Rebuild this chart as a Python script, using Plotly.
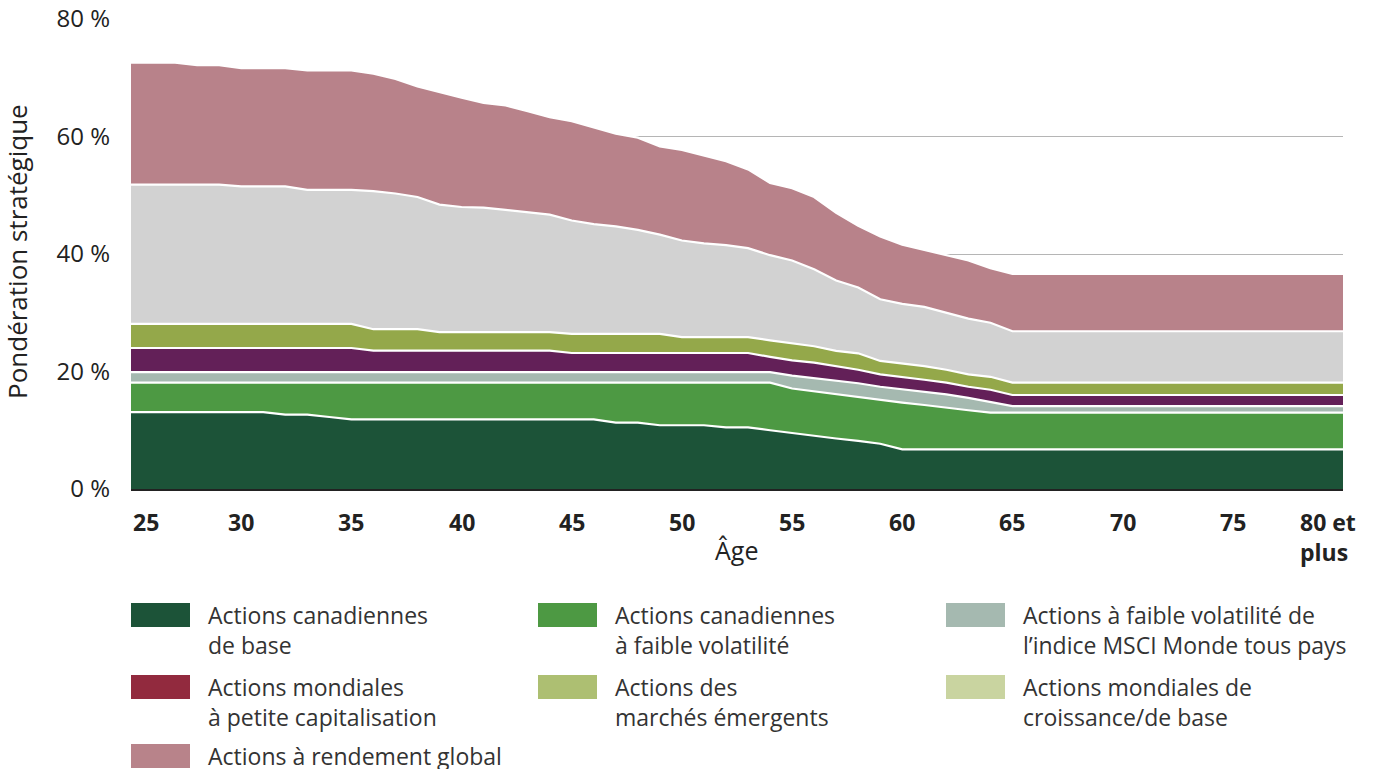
import plotly.graph_objects as go

# ---------------- data ----------------
ages = list(range(25, 66)) + [70, 75, 80]

can_base = [13.1, 13.1, 13.1, 13.1, 13.1, 13.1, 13.1, 12.65, 12.65, 12.25,
            11.85, 11.85, 11.85, 11.85, 11.85, 11.85, 11.85, 11.85, 11.85, 11.85,
            11.85, 11.85, 11.3, 11.3, 10.85, 10.85, 10.85, 10.5, 10.5, 10.0,
            9.5, 9.0, 8.6, 8.2, 7.7, 6.75, 6.75, 6.75, 6.75, 6.75,
            6.75, 6.75, 6.75, 6.75]
can_lowvol = [5.0, 5.0, 5.0, 5.0, 5.0, 5.0, 5.0, 5.45, 5.45, 5.85,
              6.25, 6.25, 6.25, 6.25, 6.25, 6.25, 6.25, 6.25, 6.25, 6.25,
              6.25, 6.25, 6.8, 6.8, 7.25, 7.25, 7.25, 7.6, 7.6, 8.1,
              7.6, 7.6, 7.5, 7.4, 7.4, 7.95, 7.55, 7.05, 6.65, 6.25,
              6.25, 6.25, 6.25, 6.25]
msci_lowvol = [1.8, 1.8, 1.8, 1.8, 1.8, 1.8, 1.8, 1.8, 1.8, 1.8,
               1.8, 1.8, 1.8, 1.8, 1.8, 1.8, 1.8, 1.8, 1.8, 1.8,
               1.8, 1.8, 1.8, 1.8, 1.8, 1.8, 1.8, 1.8, 1.8, 1.8,
               2.2, 2.3, 2.4, 2.4, 2.3, 2.3, 2.3, 2.3, 2.1, 1.8,
               1.1, 1.1, 1.1, 1.1]
small_cap = [4.1, 4.1, 4.1, 4.1, 4.1, 4.1, 4.1, 4.1, 4.1, 4.1,
             4.1, 3.65, 3.65, 3.65, 3.65, 3.65, 3.65, 3.65, 3.65, 3.65,
             3.25, 3.25, 3.25, 3.25, 3.25, 3.25, 3.25, 3.25, 3.25, 2.6,
             2.6, 2.6, 2.4, 2.3, 2.1, 2.1, 2.0, 2.0, 1.9, 2.1,
             1.9, 1.9, 1.9, 1.9]
emerging = [4.1, 4.1, 4.1, 4.1, 4.1, 4.1, 4.1, 4.1, 4.1, 4.1,
            4.1, 3.65, 3.65, 3.65, 3.15, 3.15, 3.15, 3.15, 3.15, 3.15,
            3.25, 3.25, 3.25, 3.25, 3.25, 2.7, 2.7, 2.7, 2.7, 2.8,
            2.9, 2.8, 2.6, 2.8, 2.3, 2.3, 2.3, 2.2, 2.1, 2.2,
            2.1, 2.1, 2.1, 2.1]
global_growth = [23.7, 23.7, 23.7, 23.7, 23.7, 23.4, 23.4, 23.4, 22.8, 22.8,
                 22.8, 23.5, 23.1, 22.5, 21.7, 21.3, 21.2, 20.8, 20.4, 20.0,
                 19.3, 18.7, 18.3, 17.7, 16.9, 16.45, 15.95, 15.65, 15.15, 14.5,
                 14.1, 13.1, 12.0, 11.2, 10.5, 10.1, 10.1, 9.7, 9.5, 9.2,
                 8.75, 8.75, 8.75, 8.75]
global_return = [20.75, 20.75, 20.75, 20.35, 20.35, 20.15, 20.15, 20.15, 20.35, 20.35,
                 20.35, 20.0, 19.5, 18.8, 19.1, 18.6, 17.8, 17.8, 17.2, 16.6,
                 16.9, 16.4, 15.8, 15.7, 15.0, 15.4, 14.9, 14.3, 13.4, 12.3,
                 12.3, 12.3, 11.5, 10.5, 10.7, 10.1, 9.7, 9.8, 9.9, 9.3,
                 9.75, 9.75, 9.75, 9.75]

series_names = ["Actions canadiennes de base",
                "Actions canadiennes à faible volatilité",
                "Actions à faible volatilité de l’indice MSCI Monde tous pays",
                "Actions mondiales à petite capitalisation",
                "Actions des marchés émergents",
                "Actions mondiales de croissance/de base",
                "Actions à rendement global"]
series_values = [can_base, can_lowvol, msci_lowvol, small_cap, emerging,
                 global_growth, global_return]
area_colors = ["#1c5338", "#4d9943", "#a5b9b0", "#632058", "#94a84a",
               "#d2d2d2", "#b8828a"]

x_tick_vals = [25, 30, 35, 40, 45, 50, 55, 60, 65, 70, 75, 80]
x_tick_text = ["25", "30", "35", "40", "45", "50", "55", "60", "65", "70", "75", "80 et<br>plus"]
y_tick_vals = [0, 20, 40, 60, 80]
y_tick_text = ["0 %", "20 %", "40 %", "60 %", "80 %"]

legend_lines = [["Actions canadiennes", "de base"],
                ["Actions canadiennes", "à faible volatilité"],
                ["Actions à faible volatilité de", "l’indice MSCI Monde tous pays"],
                ["Actions mondiales", "à petite capitalisation"],
                ["Actions des", "marchés émergents"],
                ["Actions mondiales de", "croissance/de base"],
                ["Actions à rendement global"]]
legend_colors = ["#1c5338", "#4d9943", "#a5b9b0", "#922a3e", "#adbf72",
                 "#c9d4a0", "#b8838a"]

# ---------------- figure ----------------
W, H = 1384, 769
L, R, T, B = 131, 41, 19, 280
PW, PH = W - L - R, H - T - B
FONT = "Open Sans"
TXT = "#222222"


def px(x):
    return (x - L) / PW


def py(y):
    return (H - B - y) / PH


fig = go.Figure()
for name, vals, col in zip(series_names, series_values, area_colors):
    fig.add_trace(go.Scatter(
        x=ages, y=vals, name=name, mode="lines", stackgroup="one",
        line=dict(color="white", width=2.2, shape="linear"),
        fillcolor=col, showlegend=False, hoverinfo="skip"))

annotations = []
# x tick labels
for v, t in zip(x_tick_vals, x_tick_text):
    anchor = "center"
    shift = 0
    if v == 25:
        anchor = "left"
    if v == 80:
        anchor = "left"
        shift = -45
    annotations.append(dict(x=v, y=py(504), xref="x", yref="paper", text=f"<b>{t}</b>",
                            showarrow=False, xanchor=anchor, yanchor="top", xshift=shift,
                            align="left", font=dict(family=FONT, size=23, color=TXT)))
# axis titles
annotations.append(dict(x=px(736), y=py(550), xref="paper", yref="paper", text="Âge",
                        showarrow=False, xanchor="center", yanchor="middle",
                        font=dict(family=FONT, size=25, color=TXT)))
annotations.append(dict(x=px(17), y=py(252), xref="paper", yref="paper",
                        text="Pondération stratégique", textangle=-90,
                        showarrow=False, xanchor="center", yanchor="middle",
                        font=dict(family=FONT, size=26, color=TXT)))

# legend (swatches + labels)
shapes = []
col_x = [131, 538, 946]
row_y = [603, 675, 744]
for i, (lines, col) in enumerate(zip(legend_lines, legend_colors)):
    c, r = i % 3, i // 3
    x0, y0 = col_x[c], row_y[r]
    shapes.append(dict(type="rect", xref="paper", yref="paper",
                       x0=px(x0), x1=px(x0 + 59), y0=py(y0 + 24), y1=py(y0),
                       fillcolor=col, line=dict(width=0)))
    annotations.append(dict(x=px(x0 + 75), y=py(y0 - 6), xref="paper", yref="paper",
                            text="<br>".join(lines), showarrow=False,
                            xanchor="left", yanchor="top", align="left",
                            font=dict(family=FONT, size=23, color="#333333")))

fig.update_layout(
    width=W, height=H,
    margin=dict(l=L, r=R, t=T, b=B, autoexpand=False),
    paper_bgcolor="white", plot_bgcolor="white",
    showlegend=False,
    xaxis=dict(range=[25, 80], tickvals=x_tick_vals, showticklabels=False,
               showgrid=False, zeroline=False, showline=True,
               linecolor="#222222", linewidth=2, ticks=""),
    yaxis=dict(range=[0, 80], tickvals=y_tick_vals, ticktext=y_tick_text,
               showgrid=True, gridcolor="#b5b5b5", gridwidth=1, zeroline=False,
               showline=False, ticks="", ticklabelstandoff=20,
               tickfont=dict(family=FONT, size=24, color=TXT)),
    annotations=annotations,
    shapes=shapes,
)

fig.write_html("out.html", config={"displayModeBar": False},
               post_script="document.body.style.margin='0px';document.body.style.overflow='hidden';")
